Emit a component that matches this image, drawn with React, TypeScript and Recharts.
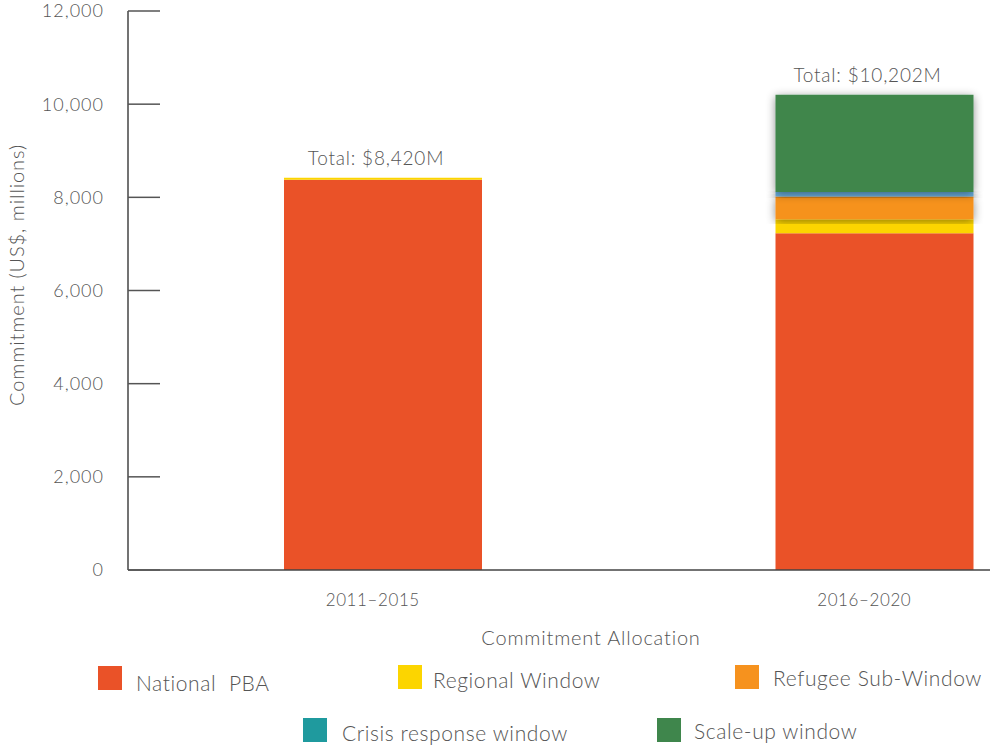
import React from "react";
import { BarChart, Bar, XAxis, YAxis, Legend, LabelList, Rectangle } from "recharts";

const periods = ["2011–2015", "2016–2020"];
const nationalPBA = [8380, 7230];
const regionalWindow = [40, 300];
const refugeeSubWindow = [0, 490];
const crisisResponse = [0, 92];
const scaleUpWindow = [0, 2090];
const yTicks = [0, 2000, 4000, 6000, 8000, 10000, 12000];

const seriesNames = ["National  PBA", "Regional Window", "Refugee Sub-Window", "Crisis response window", "Scale-up window"];
const seriesColors = ["#EA5228", "#FCD500", "#F6921E", "#1F9A9E", "#3F864C"];
const barColors = ["#EA5228", "#FCD500", "#F6921E", "#67AEDE", "#3F864C"];

const data = periods.map((p, i) => ({
  period: p,
  national: nationalPBA[i],
  regional: regionalWindow[i],
  refugee: refugeeSubWindow[i],
  crisis: crisisResponse[i],
  scaleup: scaleUpWindow[i],
}));
const totals = data.map((d) => d.national + d.regional + d.refugee + d.crisis + d.scaleup);

const FONT = "Lato, 'Open Sans', sans-serif";
const TEXT = "#555";

const legendPos = [
  { sx: 98, sy: 20, tx: 136, ty: 37 },
  { sx: 398, sy: 19, tx: 433, ty: 34 },
  { sx: 735, sy: 19, tx: 773, ty: 32 },
  { sx: 303, sy: 72, tx: 342, ty: 87 },
  { sx: 657, sy: 72, tx: 694, ty: 85 },
];

const renderLegend = () => (
  <div style={{ position: "relative", width: 992, height: 100, fontFamily: FONT }}>
    {seriesNames.map((n, i) => (
      <React.Fragment key={n}>
        <div
          style={{
            position: "absolute",
            left: legendPos[i].sx,
            top: legendPos[i].sy,
            width: 24,
            height: 24,
            background: seriesColors[i],
          }}
        />
        <div
          style={{
            position: "absolute",
            left: legendPos[i].tx,
            top: legendPos[i].ty - 13,
            fontSize: 21,
            lineHeight: "26px",
            letterSpacing: 0.6,
            color: TEXT,
            whiteSpace: "pre",
            fontWeight: 300,
          }}
        >
          {n}
        </div>
      </React.Fragment>
    ))}
  </div>
);

const shadowShape = (props: any) => <Rectangle {...props} filter="url(#barShadow)" />;

const renderTotal = (props: any) => {
  const { x, y, width, index } = props;
  return (
    <text
      x={x + width / 2 - 7}
      y={y - 13}
      textAnchor="middle"
      fontSize={19}
      fontWeight={300}
      letterSpacing={0.8}
      fill={TEXT}
      fontFamily={FONT}
    >
      {`Total: $${totals[index].toLocaleString("en-US")}M`}
    </text>
  );
};

export default function App() {
  return (
    <div style={{ position: "absolute", left: 0, top: 0, width: 992, height: 746 }}>
      <BarChart
        width={992}
        height={746}
        data={data}
        margin={{ top: 11, right: 2, bottom: 0, left: 0 }}
        barSize={198}
      >
        <defs>
          <filter id="barShadow" x="-10%" y="-10%" width="120%" height="130%">
            <feDropShadow dx="0" dy="2" stdDeviation="5" floodColor="#000" floodOpacity="0.45" />
          </filter>
        </defs>
        <XAxis
          dataKey="period"
          height={76}
          padding={{ left: 9, right: -130 }}
          tickLine={false}
          tickSize={0}
          tickMargin={24}
          axisLine={{ stroke: "#444", strokeWidth: 1.5 }}
          tick={{ fill: TEXT, fontSize: 17, fontWeight: 300, letterSpacing: 0.6, fontFamily: FONT, dx: -10 }}
          label={{
            value: "Commitment Allocation",
            position: "insideBottom",
            offset: 1,
            dx: 32,
            fill: TEXT,
            fontSize: 20,
            fontWeight: 300,
            letterSpacing: 0.8,
            fontFamily: FONT,
          }}
        />
        <YAxis
          width={128}
          domain={[0, 12000]}
          ticks={yTicks}
          interval={0}
          tickSize={-32}
          tickMargin={56}
          tickFormatter={(v: number) => v.toLocaleString("en-US")}
          axisLine={{ stroke: "#444", strokeWidth: 1.5 }}
          tickLine={{ stroke: "#555", strokeWidth: 1.5 }}
          tick={{ fill: TEXT, fontSize: 18, fontWeight: 300, letterSpacing: 1, fontFamily: FONT }}
          label={{
            content: () => (
              <text
                transform="translate(24, 275) rotate(-90)"
                textAnchor="middle"
                fontSize={20}
                fontWeight={300}
                letterSpacing={0.9}
                fill={TEXT}
                fontFamily={FONT}
              >
                Commitment (US$, millions)
              </text>
            ),
          }}
        />
        <Legend verticalAlign="bottom" wrapperStyle={{ left: 0, bottom: 0, width: 992, height: 100 }} content={renderLegend} />
        <Bar dataKey="national" stackId="a" fill={barColors[0]} isAnimationActive={false} />
        <Bar dataKey="regional" stackId="a" fill={barColors[1]} isAnimationActive={false} />
        <Bar dataKey="refugee" stackId="a" fill={barColors[2]} isAnimationActive={false} shape={shadowShape} />
        <Bar dataKey="crisis" stackId="a" fill={barColors[3]} isAnimationActive={false} shape={shadowShape} />
        <Bar dataKey="scaleup" stackId="a" fill={barColors[4]} isAnimationActive={false} shape={shadowShape}>
          <LabelList dataKey="scaleup" content={renderTotal} />
        </Bar>
      </BarChart>
    </div>
  );
}
